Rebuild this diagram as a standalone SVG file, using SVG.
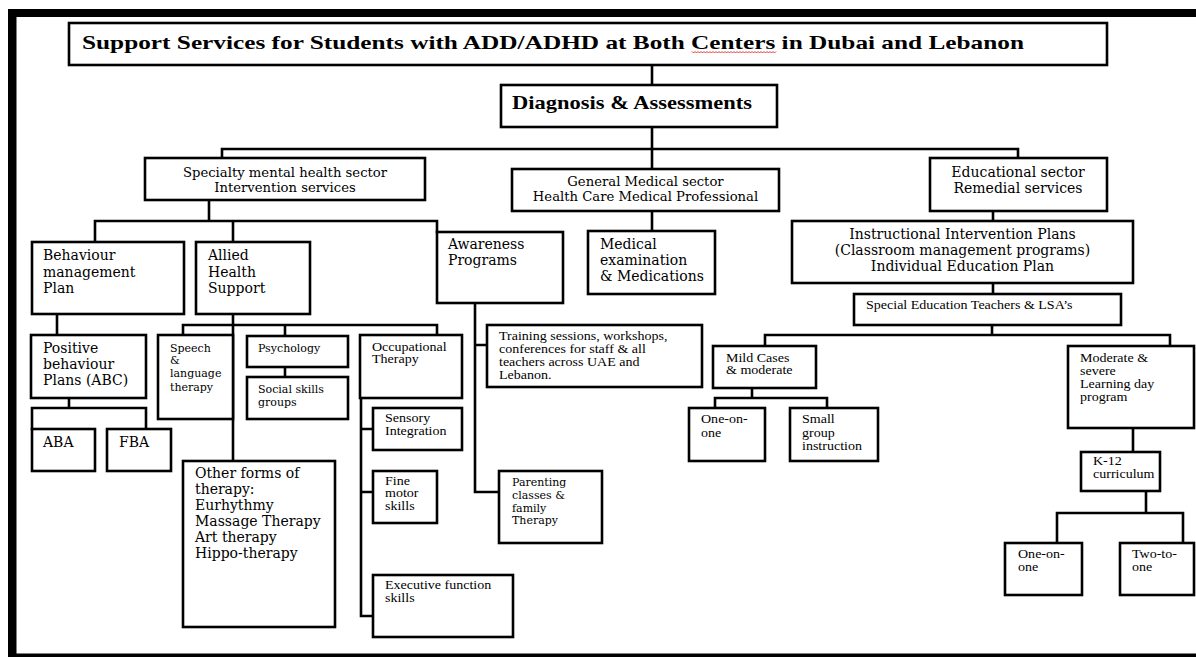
<svg xmlns="http://www.w3.org/2000/svg" width="1196" height="657" viewBox="0 0 1196 657">
<style>
.b{fill:#fff;stroke:#000;stroke-width:2.6}
.c{fill:none;stroke:#000;stroke-width:2.6;stroke-linecap:square}
.dj{font-family:"DejaVu Serif",serif;fill:#000}
.tm{font-family:"Liberation Serif","Times New Roman",serif;font-size:11.5px;fill:#000}
.bd{font-family:"Liberation Serif","Times New Roman",serif;font-weight:bold;fill:#000}
</style>
<rect width="1196" height="657" fill="#fff"/>
<g id="frame">
<rect x="8" y="9" width="1188" height="8" fill="#000"/>
<rect x="8" y="9" width="8.5" height="648" fill="#000"/>
<rect x="8" y="653.5" width="1188" height="3.5" fill="#000"/>
</g>
<g id="connectors">
<path class="c" d="M652,65V85M652,127V149M222,149H1018M222,149V158M652,149V169M1018,149V158M209,200V221M95,221H437M95,221V242M233,221V242M437,221V232M652,211V231M993,211V221M993,283V294M992,325V335M765,335H1170M765,335V346M1170,335V346M752,388V398M715,398H827M715,398V408M827,398V408M1133,428V452M1146,491V513M1057,513H1183M1057,513V543M1183,513V543M57,314V335M69,398V408M32,408H146M32,408V429M146,408V429M233,314V461M183,325H437M183,325V335M285,325V336M437,325V335M285,367V377M361,398V616M361,429H373M361,492H373M361,616H373M475,303V492M475,345H487M475,492H499"/>
</g>
<g id="title">
<rect class="b" x="69" y="23" width="1038" height="42"/>
<text class="bd" x="82" y="48.5" font-size="19" textLength="942" lengthAdjust="spacingAndGlyphs">Support Services for Students with ADD/ADHD at Both Centers in Dubai and Lebanon</text>
<path d="M692,51.5l1.5,1.5l1.5,-1.5l1.5,1.5l1.5,-1.5l1.5,1.5l1.5,-1.5l1.5,1.5l1.5,-1.5l1.5,1.5l1.5,-1.5l1.5,1.5l1.5,-1.5l1.5,1.5l1.5,-1.5l1.5,1.5l1.5,-1.5l1.5,1.5l1.5,-1.5l1.5,1.5l1.5,-1.5l1.5,1.5l1.5,-1.5l1.5,1.5l1.5,-1.5l1.5,1.5l1.5,-1.5l1.5,1.5l1.5,-1.5l1.5,1.5l1.5,-1.5l1.5,1.5l1.5,-1.5l1.5,1.5l1.5,-1.5l1.5,1.5l1.5,-1.5l1.5,1.5l1.5,-1.5l1.5,1.5l1.5,-1.5l1.5,1.5l1.5,-1.5l1.5,1.5l1.5,-1.5l1.5,1.5l1.5,-1.5l1.5,1.5l1.5,-1.5l1.5,1.5l1.5,-1.5l1.5,1.5l1.5,-1.5l1.5,1.5l1.5,-1.5l1.5,1.5l1.5,-1.5" fill="none" stroke="#e02020" stroke-width="0.9"/>
</g>
<g id="diagnosis">
<rect class="b" x="501" y="85" width="276" height="42"/>
<text class="bd" x="512" y="109" font-size="19.5" textLength="240" lengthAdjust="spacingAndGlyphs">Diagnosis &amp; Assessments</text>
</g>
<g id="specialty">
<rect class="b" x="145" y="158" width="280" height="42"/>
<text class="dj" font-size="13.2" text-anchor="middle"><tspan x="285" y="176.5">Specialty mental health sector</tspan><tspan x="285" y="192">Intervention services</tspan></text>
</g>
<g id="general">
<rect class="b" x="512" y="169" width="267" height="42"/>
<text class="dj" font-size="13.2" text-anchor="middle"><tspan x="645.5" y="186">General Medical sector</tspan><tspan x="645.5" y="201">Health Care Medical Professional</tspan></text>
</g>
<g id="educational">
<rect class="b" x="930" y="158" width="177" height="53"/>
<text class="dj" font-size="14" text-anchor="middle"><tspan x="1018" y="177">Educational sector</tspan><tspan x="1018" y="193">Remedial services</tspan></text>
</g>
<g id="behaviour">
<rect class="b" x="32" y="242" width="152" height="72"/>
<text class="dj" font-size="14"><tspan x="43" y="260">Behaviour</tspan><tspan x="43" y="277">management</tspan><tspan x="43" y="293">Plan</tspan></text>
</g>
<g id="allied">
<rect class="b" x="196" y="242" width="114" height="72"/>
<text class="dj" font-size="14"><tspan x="208" y="260">Allied</tspan><tspan x="208" y="277">Health</tspan><tspan x="208" y="293">Support</tspan></text>
</g>
<g id="awareness">
<rect class="b" x="437" y="232" width="126" height="71"/>
<text class="dj" font-size="14"><tspan x="448" y="249">Awareness</tspan><tspan x="448" y="265">Programs</tspan></text>
</g>
<g id="medical">
<rect class="b" x="588" y="231" width="127" height="63"/>
<text class="dj" font-size="14"><tspan x="600" y="249">Medical</tspan><tspan x="600" y="265">examination</tspan><tspan x="600" y="281">&amp; Medications</tspan></text>
</g>
<g id="instructional">
<rect class="b" x="792" y="221" width="341" height="62"/>
<text class="dj" font-size="14" text-anchor="middle"><tspan x="962.5" y="239">Instructional Intervention Plans</tspan><tspan x="962.5" y="255">(Classroom management programs)</tspan><tspan x="962.5" y="271">Individual Education Plan</tspan></text>
</g>
<g id="special-ed">
<rect class="b" x="854" y="294" width="267" height="31"/>
<text class="tm" transform="translate(866 0) scale(1.22 1)" x="0" y="309">Special Education Teachers &amp; LSA’s</text>
</g>
<g id="mild">
<rect class="b" x="713" y="346" width="103" height="42"/>
<text class="tm" transform="translate(726 0) scale(1.22 1)"><tspan x="0" y="362">Mild Cases</tspan><tspan x="0" y="374">&amp; moderate</tspan></text>
</g>
<g id="one-on-one-a">
<rect class="b" x="689" y="408" width="76" height="53"/>
<text class="tm" transform="translate(701 0) scale(1.22 1)"><tspan x="0" y="423">One-on-</tspan><tspan x="0" y="437">one</tspan></text>
</g>
<g id="small-group">
<rect class="b" x="790" y="408" width="88" height="53"/>
<text class="tm" transform="translate(802 0) scale(1.22 1)"><tspan x="0" y="423">Small</tspan><tspan x="0" y="437">group</tspan><tspan x="0" y="450">instruction</tspan></text>
</g>
<g id="moderate">
<rect class="b" x="1068" y="346" width="126" height="82"/>
<text class="tm" transform="translate(1080 0) scale(1.22 1)"><tspan x="0" y="362">Moderate &amp;</tspan><tspan x="0" y="375">severe</tspan><tspan x="0" y="388">Learning day</tspan><tspan x="0" y="401">program</tspan></text>
</g>
<g id="k12">
<rect class="b" x="1081" y="452" width="79" height="39"/>
<text class="tm" transform="translate(1093 0) scale(1.22 1)"><tspan x="0" y="465">K-12</tspan><tspan x="0" y="478">curriculum</tspan></text>
</g>
<g id="one-on-one-b">
<rect class="b" x="1005" y="543" width="77" height="52"/>
<text class="tm" transform="translate(1018 0) scale(1.22 1)"><tspan x="0" y="558">One-on-</tspan><tspan x="0" y="571">one</tspan></text>
</g>
<g id="two-to-one">
<rect class="b" x="1120" y="543" width="74" height="52"/>
<text class="tm" transform="translate(1132 0) scale(1.22 1)"><tspan x="0" y="558">Two-to-</tspan><tspan x="0" y="571">one</tspan></text>
</g>
<g id="positive">
<rect class="b" x="31" y="335" width="115" height="63"/>
<text class="dj" font-size="14"><tspan x="43" y="353">Positive</tspan><tspan x="43" y="369">behaviour</tspan><tspan x="43" y="385">Plans (ABC)</tspan></text>
</g>
<g id="aba">
<rect class="b" x="32" y="429" width="63" height="42"/>
<text class="dj" font-size="14" x="43" y="447">ABA</text>
</g>
<g id="fba">
<rect class="b" x="107" y="429" width="64" height="42"/>
<text class="dj" font-size="14" x="119" y="447">FBA</text>
</g>
<g id="speech">
<rect class="b" x="158" y="335" width="75" height="84"/>
<text class="dj" font-size="11"><tspan x="170" y="352">Speech</tspan><tspan x="170" y="364">&amp;</tspan><tspan x="170" y="377">language</tspan><tspan x="170" y="391">therapy</tspan></text>
</g>
<g id="psychology">
<rect class="b" x="247" y="336" width="101" height="31"/>
<text class="dj" font-size="11" x="258" y="352">Psychology</text>
</g>
<g id="social">
<rect class="b" x="247" y="377" width="101" height="42"/>
<text class="dj" font-size="11"><tspan x="258" y="393">Social skills</tspan><tspan x="258" y="406">groups</tspan></text>
</g>
<g id="other-forms">
<rect class="b" x="183" y="461" width="152" height="166"/>
<text class="dj" font-size="14"><tspan x="195" y="478">Other forms of</tspan><tspan x="195" y="494">therapy:</tspan><tspan x="195" y="510">Eurhythmy</tspan><tspan x="195" y="526">Massage Therapy</tspan><tspan x="195" y="542">Art therapy</tspan><tspan x="195" y="558">Hippo-therapy</tspan></text>
</g>
<g id="occupational">
<rect class="b" x="360" y="335" width="102" height="63"/>
<text class="tm" transform="translate(372 0) scale(1.22 1)"><tspan x="0" y="351">Occupational</tspan><tspan x="0" y="363">Therapy</tspan></text>
</g>
<g id="sensory">
<rect class="b" x="373" y="408" width="89" height="42"/>
<text class="tm" transform="translate(385 0) scale(1.22 1)"><tspan x="0" y="422">Sensory</tspan><tspan x="0" y="435">Integration</tspan></text>
</g>
<g id="fine-motor">
<rect class="b" x="373" y="471" width="64" height="52"/>
<text class="tm" transform="translate(385 0) scale(1.22 1)"><tspan x="0" y="485">Fine</tspan><tspan x="0" y="497">motor</tspan><tspan x="0" y="510">skills</tspan></text>
</g>
<g id="executive">
<rect class="b" x="373" y="575" width="140" height="62"/>
<text class="tm" transform="translate(385 0) scale(1.22 1)"><tspan x="0" y="589">Executive function</tspan><tspan x="0" y="602">skills</tspan></text>
</g>
<g id="training">
<rect class="b" x="487" y="325" width="215" height="62"/>
<text class="tm" transform="translate(499 0) scale(1.22 1)"><tspan x="0" y="340">Training sessions, workshops,</tspan><tspan x="0" y="353">conferences for staff &amp; all</tspan><tspan x="0" y="366">teachers across UAE and</tspan><tspan x="0" y="379">Lebanon.</tspan></text>
</g>
<g id="parenting">
<rect class="b" x="499" y="471" width="103" height="72"/>
<text class="dj" font-size="11"><tspan x="512" y="486">Parenting</tspan><tspan x="512" y="499">classes &amp;</tspan><tspan x="512" y="512">family</tspan><tspan x="512" y="524">Therapy</tspan></text>
</g>
</svg>
